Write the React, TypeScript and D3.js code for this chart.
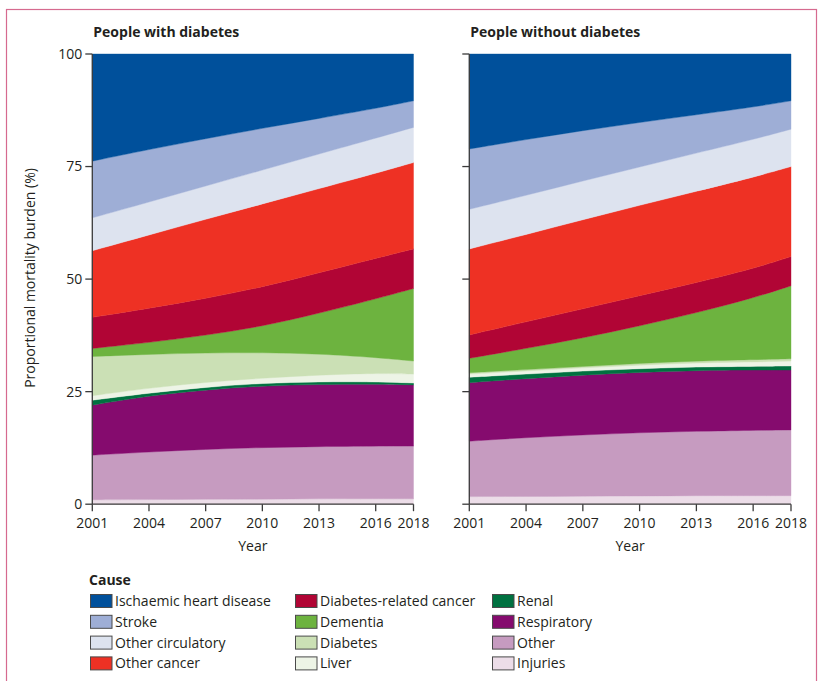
import React from "react";
import * as d3 from "d3";

// Years sampled along the x axis
const years = [2001, 2004, 2007, 2010, 2013, 2016, 2018];
const tickYears = [2001, 2004, 2007, 2010, 2013, 2016, 2018];
const yTicks = [0, 25, 50, 75, 100];

// Causes in stacking order (bottom to top)
const causes = [
  "Injuries",
  "Other",
  "Respiratory",
  "Renal",
  "Liver",
  "Diabetes",
  "Dementia",
  "Diabetes-related cancer",
  "Other cancer",
  "Other circulatory",
  "Stroke",
  "Ischaemic heart disease",
];

const causeColors = [
  "#ecdde8",
  "#c69bc0",
  "#850b6e",
  "#007140",
  "#edf4e6",
  "#cbe0b5",
  "#6db33f",
  "#b10535",
  "#ee3124",
  "#dde3ef",
  "#9eaed6",
  "#00509b",
];

// Proportional mortality burden (%) — people with diabetes
const withInjuries = [1.0, 1.0, 1.1, 1.1, 1.2, 1.2, 1.2];
const withOther = [9.9, 10.6, 11.1, 11.5, 11.6, 11.7, 11.7];
const withRespiratory = [11.1, 12.5, 13.2, 13.7, 13.8, 13.8, 13.6];
const withRenal = [1.1, 0.6, 0.6, 0.6, 0.6, 0.5, 0.4];
const withLiver = [1.0, 1.1, 1.1, 1.1, 1.5, 1.9, 2.0];
const withDiabetes = [8.7, 7.5, 6.5, 5.7, 4.7, 3.5, 2.9];
const withDementia = [1.8, 2.6, 3.9, 5.8, 9.0, 13.0, 16.1];
const withDiabCancer = [6.9, 7.6, 8.2, 8.7, 9.0, 9.0, 8.8];
const withOtherCancer = [14.8, 16.3, 17.6, 18.5, 18.7, 18.9, 19.2];
const withOtherCirc = [7.3, 7.3, 7.4, 7.5, 7.7, 7.8, 7.8];
const withStroke = [12.6, 11.7, 10.5, 9.3, 7.9, 6.6, 5.9];
const withIHD = [23.8, 21.2, 18.8, 16.5, 14.3, 12.1, 10.4];

// Proportional mortality burden (%) — people without diabetes
const withoutInjuries = [1.7, 1.7, 1.8, 1.8, 1.9, 1.9, 1.9];
const withoutOther = [12.3, 13.1, 13.6, 14.1, 14.3, 14.5, 14.6];
const withoutRespiratory = [13.0, 13.1, 13.3, 13.4, 13.5, 13.4, 13.3];
const withoutRenal = [1.2, 1.0, 0.9, 0.8, 0.8, 0.8, 0.9];
const withoutLiver = [0.7, 0.7, 0.7, 0.8, 0.9, 1.0, 1.1];
const withoutDiabetes = [0.3, 0.3, 0.3, 0.4, 0.4, 0.5, 0.5];
const withoutDementia = [3.2, 4.7, 6.3, 8.3, 10.7, 13.7, 16.2];
const withoutDiabCancer = [5.2, 5.9, 6.5, 6.7, 6.7, 6.5, 6.5];
const withoutOtherCancer = [19.1, 19.4, 19.8, 20.1, 20.3, 20.3, 20.0];
const withoutOtherCirc = [8.8, 8.7, 8.6, 8.5, 8.5, 8.4, 8.3];
const withoutStroke = [13.4, 12.4, 11.2, 9.9, 8.5, 7.2, 6.3];
const withoutIHD = [21.1, 19.0, 17.0, 15.2, 13.5, 11.8, 10.4];

const withSeries = [
  withInjuries, withOther, withRespiratory, withRenal, withLiver, withDiabetes,
  withDementia, withDiabCancer, withOtherCancer, withOtherCirc, withStroke, withIHD,
];
const withoutSeries = [
  withoutInjuries, withoutOther, withoutRespiratory, withoutRenal, withoutLiver, withoutDiabetes,
  withoutDementia, withoutDiabCancer, withoutOtherCancer, withoutOtherCirc, withoutStroke, withoutIHD,
];

// Legend layout: columns of causes, listed top-down
const legendColumns = [
  ["Ischaemic heart disease", "Stroke", "Other circulatory", "Other cancer"],
  ["Diabetes-related cancer", "Dementia", "Diabetes", "Liver"],
  ["Renal", "Respiratory", "Other", "Injuries"],
];

const FONT = "'Open Sans', 'Noto Sans', sans-serif";
const AXIS = "#3a3a3a";
const TEXT = "#231f20";

type Row = { year: number; [k: string]: number };

function buildRows(series: number[][]): Row[] {
  return years.map((yr, i) => {
    const row: Row = { year: yr };
    causes.forEach((c, j) => {
      row[c] = series[j][i];
    });
    return row;
  });
}

const PLOT_TOP = 54;
const PLOT_BOTTOM = 504.2;

function Panel({
  series,
  x0,
  x1,
  title,
  showYLabels,
}: {
  series: number[][];
  x0: number;
  x1: number;
  title: string;
  showYLabels: boolean;
}) {
  const rows = buildRows(series);
  const stack = d3.stack<Row>().keys(causes)(rows);
  const x = d3.scaleLinear().domain([2001, 2018]).range([x0, x1]);
  const y = d3.scaleLinear().domain([0, 100]).range([PLOT_BOTTOM, PLOT_TOP]);
  const area = d3
    .area<d3.SeriesPoint<Row>>()
    .x((d) => x(d.data.year))
    .y0((d) => y(d[0]))
    .y1((d) => y(d[1]))
    .curve(d3.curveBasis);

  return (
    <g>
      <text
        x={x0 + 1}
        y={36.5}
        fontFamily={FONT}
        fontWeight={700}
        fontSize={14}
        fill={TEXT}
      >
        {title}
      </text>
      {stack.map((layer, i) => (
        <path
          key={causes[i]}
          d={area(layer) || ""}
          fill={causeColors[i]}
          stroke={causeColors[i]}
          strokeWidth={0.4}
        />
      ))}
      {/* y axis */}
      <line x1={x0} x2={x0} y1={y(100)} y2={y(0)} stroke={AXIS} strokeWidth={1.3} />
      {yTicks.map((t) => (
        <g key={t}>
          <line x1={x0 - 7} x2={x0} y1={y(t)} y2={y(t)} stroke={AXIS} strokeWidth={1.3} />
          {showYLabels && (
            <text
              x={x0 - 10}
              y={y(t)}
              dy="0.35em"
              textAnchor="end"
              fontFamily={FONT}
              fontSize={14}
              fill={TEXT}
            >
              {t}
            </text>
          )}
        </g>
      ))}
      {/* x axis */}
      <line x1={x0} x2={x1} y1={y(0)} y2={y(0)} stroke={AXIS} strokeWidth={1.3} />
      {tickYears.map((t) => (
        <g key={t}>
          <line x1={x(t)} x2={x(t)} y1={y(0)} y2={y(0) + 7} stroke={AXIS} strokeWidth={1.3} />
          <text
            x={x(t)}
            y={528}
            textAnchor="middle"
            fontFamily={FONT}
            fontSize={14}
            fill={TEXT}
          >
            {t}
          </text>
        </g>
      ))}
      <text
        x={(x0 + x1) / 2}
        y={551}
        textAnchor="middle"
        fontFamily={FONT}
        fontSize={14}
        fill={TEXT}
      >
        Year
      </text>
    </g>
  );
}

export default function App() {
  const colX = [90, 295, 492];
  const rowY = [601, 621.8, 642.6, 663.4];
  return (
    <svg
      width={819}
      height={681}
      style={{ position: "absolute", left: 0, top: 0, background: "#fff" }}
    >
      <rect x={0} y={0} width={819} height={681} fill="#fff" />
      <rect
        x={6.5}
        y={9.5}
        width={810}
        height={690}
        fill="none"
        stroke="#d66a8f"
        strokeWidth={1.2}
      />
      <Panel
        series={withSeries}
        x0={92.3}
        x1={413.5}
        title="People with diabetes"
        showYLabels={true}
      />
      <Panel
        series={withoutSeries}
        x0={469.3}
        x1={791}
        title="People without diabetes"
        showYLabels={false}
      />
      <text
        transform="translate(35,278) rotate(-90)"
        textAnchor="middle"
        fontFamily={FONT}
        fontSize={14}
        fill={TEXT}
      >
        Proportional mortality burden (%)
      </text>
      <text x={89} y={585} fontFamily={FONT} fontWeight={700} fontSize={14} fill={TEXT}>
        Cause
      </text>
      {legendColumns.map((col, ci) =>
        col.map((name, ri) => {
          const idx = causes.indexOf(name);
          return (
            <g key={name}>
              <rect
                x={colX[ci] + 0.5}
                y={rowY[ri] - 6.5}
                width={21.5}
                height={13}
                fill={causeColors[idx]}
                stroke="#4a4a4a"
                strokeWidth={1}
              />
              <text
                x={colX[ci] + 25}
                y={rowY[ri]}
                dy="0.35em"
                fontFamily={FONT}
                fontSize={14}
                fill={TEXT}
              >
                {name}
              </text>
            </g>
          );
        })
      )}
    </svg>
  );
}
